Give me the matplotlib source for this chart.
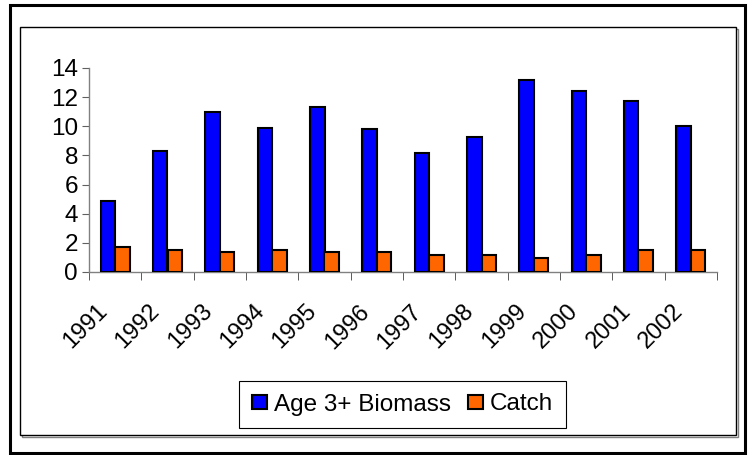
import matplotlib.pyplot as plt
import matplotlib.transforms as mtransforms
import numpy as np
from matplotlib.patches import Rectangle

plt.rcParams['font.family'] = ['Liberation Sans', 'DejaVu Sans']

years = ['1991', '1992', '1993', '1994', '1995', '1996',
         '1997', '1998', '1999', '2000', '2001', '2002']
biomass = [4.9, 8.3, 10.95, 9.9, 11.35, 9.8, 8.2, 9.25, 13.2, 12.45, 11.75, 10.05]
catch = [1.75, 1.5, 1.35, 1.5, 1.35, 1.35, 1.2, 1.2, 0.95, 1.2, 1.5, 1.5]


def plot_chart():
    fig = plt.figure(figsize=(7.48, 4.55), dpi=100)
    W, H = 748, 455

    # outer thick border
    fig.patches.append(Rectangle((9.5 / W, 1 - 453 / H), 735.5 / W, 448 / H,
                                 transform=fig.transFigure, fill=False,
                                 edgecolor='black', linewidth=2.2, zorder=-2))
    # chart frame with a grey shadow
    fig.patches.append(Rectangle((21.5 / W, 1 - 436.5 / H), 716 / W, 408 / H,
                                 transform=fig.transFigure, fill=False,
                                 edgecolor='#808080', linewidth=1.0, zorder=-2))
    fig.patches.append(Rectangle((20 / W, 1 - 435 / H), 716 / W, 408 / H,
                                 transform=fig.transFigure, facecolor='white',
                                 edgecolor='black', linewidth=1.0, zorder=-1))

    ax = fig.add_axes([89 / W, 1 - 272 / H, 628 / W, 204 / H])
    ax.patch.set_alpha(0)
    x = np.arange(len(years))
    w = 0.28
    ax.bar(x - w / 2, biomass, w, color='#0000FF', edgecolor='black', linewidth=1.5,
           label='Age 3+ Biomass', zorder=3)
    ax.bar(x + w / 2, catch, w, color='#FF6600', edgecolor='black', linewidth=1.5,
           label='Catch', zorder=3)

    ax.set_xlim(-0.5, len(years) - 0.5)
    ax.set_ylim(0, 14)
    ax.set_yticks(range(0, 15, 2))
    ax.tick_params(axis='y', labelsize=17.5, length=5, color='#606060', pad=3)

    ax.set_xticks(x)
    ax.set_xticklabels(years, rotation=45, ha='right', va='center', rotation_mode='anchor',
                       fontsize=17)
    ax.tick_params(axis='x', which='major', length=0, pad=26)
    shift = mtransforms.ScaledTranslation(-11 / 100, 0, fig.dpi_scale_trans)
    for lab in ax.get_xticklabels():
        lab.set_transform(lab.get_transform() + shift)
    ax.set_xticks(np.arange(-0.5, len(years), 1), minor=True)
    ax.tick_params(axis='x', which='minor', length=6, color='#404040')

    for s in ['top', 'right']:
        ax.spines[s].set_visible(False)
    for s in ['left', 'bottom']:
        ax.spines[s].set_color('#808080')
        ax.spines[s].set_linewidth(1.0)

    leg = fig.legend(loc='center', bbox_to_anchor=(402.5 / W, 1 - 404.5 / H), ncol=2,
                     fontsize=17.5, fancybox=False, edgecolor='black', framealpha=1,
                     handlelength=0.62, handleheight=0.55, handletextpad=0.3,
                     columnspacing=0.7, borderpad=0.5, borderaxespad=0)
    leg.get_frame().set_linewidth(0.8)

    plt.savefig('out.png', dpi=100)


if __name__ == '__main__':
    plot_chart()
